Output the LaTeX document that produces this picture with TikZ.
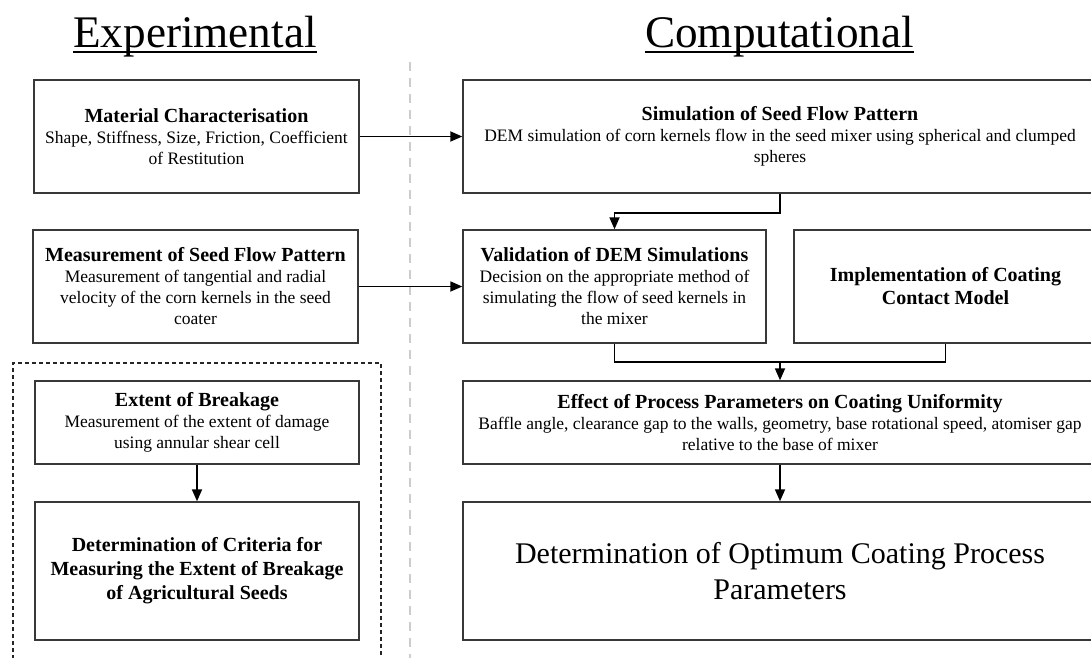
\documentclass[tikz,border=0pt]{standalone}
\usepackage{fontspec}
\setmainfont{Liberation Serif}
\usetikzlibrary{arrows.meta,positioning}

\newcommand{\boxhead}[1]{{\fontsize{20}{22}\selectfont\bfseries #1}}

\begin{document}
\begin{tikzpicture}[x=1pt,y=-1pt,>={Triangle[length=12pt,width=10pt]},
  box/.style={draw=black!78,line width=1.4pt,align=center,inner sep=2pt,
    font=\fontsize{17.5}{21}\selectfont},
  flow/.style={->,line width=1.8pt},
  coltitle/.style={inner sep=0pt,anchor=base,font=\fontsize{45.2}{50}\selectfont}]
  \useasboundingbox (0,0) rectangle (1091,657);
  \clip (0,0) rectangle (1091,657);

  % column titles and the divider
  \node[coltitle] (exp) at (195,47) {Experimental};
  \node[coltitle] (comp) at (779.5,47) {Computational};
  \draw[line width=1.4pt] ([yshift=-5pt]exp.base west) -- ([yshift=-5pt]exp.base east);
  \draw[line width=1.4pt] ([yshift=-5pt]comp.base west) -- ([yshift=-5pt]comp.base east);
  \draw[black!20,line width=1.6pt,dash pattern=on 9pt off 7pt] (410,62) -- (410,660);

  % experimental side
  \node[box,minimum width=325pt,minimum height=113pt] (mat) at (196.5,136.5)
    {\boxhead{Material Characterisation}\\
     Shape, Stiffness, Size, Friction, Coefficient\\
     of Restitution};
  \node[box,minimum width=325pt,minimum height=113pt] (mes) at (195.5,286.5)
    {\boxhead{Measurement of Seed Flow Pattern}\\
     Measurement of tangential and radial\\
     velocity of the corn kernels in the seed\\
     coater};
  \draw[black!85,line width=1.1pt,dash pattern=on 4pt off 3pt] (13,680) |- (381,363) -- (381,680);
  \node[box,minimum width=324pt,minimum height=83pt] (ext) at (197,422.5)
    {\boxhead{Extent of Breakage}\\
     Measurement of the extent of damage\\
     using annular shear cell};
  \node[box,minimum width=324pt,minimum height=138pt] (cri) at (197,571)
    {\boxhead{Determination of Criteria for}\\[3pt]
     \boxhead{Measuring the Extent of Breakage}\\[3pt]
     \boxhead{of Agricultural Seeds}};

  % computational side
  \node[box,minimum width=634pt,minimum height=113pt] (sim) at (780,136.5)
    {\boxhead{Simulation of Seed Flow Pattern}\\
     DEM simulation of corn kernels flow in the seed mixer using spherical and clumped\\
     spheres};
  \node[box,minimum width=303pt,minimum height=113pt] (val) at (614.5,286.5)
    {\boxhead{Validation of DEM Simulations}\\
     Decision on the appropriate method of\\
     simulating the flow of seed kernels in\\
     the mixer};
  \node[box,minimum width=303pt,minimum height=113pt] (imp) at (945.5,286.5)
    {\boxhead{Implementation of Coating}\\[2pt]
     \boxhead{Contact Model}};
  \node[box,minimum width=634pt,minimum height=83pt] (eff) at (780,422.5)
    {\boxhead{Effect of Process Parameters on Coating Uniformity}\\
     Baffle angle, clearance gap to the walls, geometry, base rotational speed, atomiser gap\\
     relative to the base of mixer};
  \node[box,minimum width=634pt,minimum height=138pt,font=\fontsize{30}{36}\selectfont] (opt) at (780,571)
    {Determination of Optimum Coating Process\\
     Parameters};

  % connectors
  \coordinate (join) at ([yshift=18pt]eff.north);
  \draw[flow] (mat) -- (sim);
  \draw[flow] (mes) -- (val);
  \draw[flow] (sim.south) -- ++(0,19) -| (val.north);
  \draw[line width=1.8pt] (val.south) |- (join) -| (imp.south);
  \draw[flow] (join) -- (eff.north);
  \draw[flow] (eff) -- (opt);
  \draw[flow] (ext) -- (cri);
\end{tikzpicture}
\end{document}
